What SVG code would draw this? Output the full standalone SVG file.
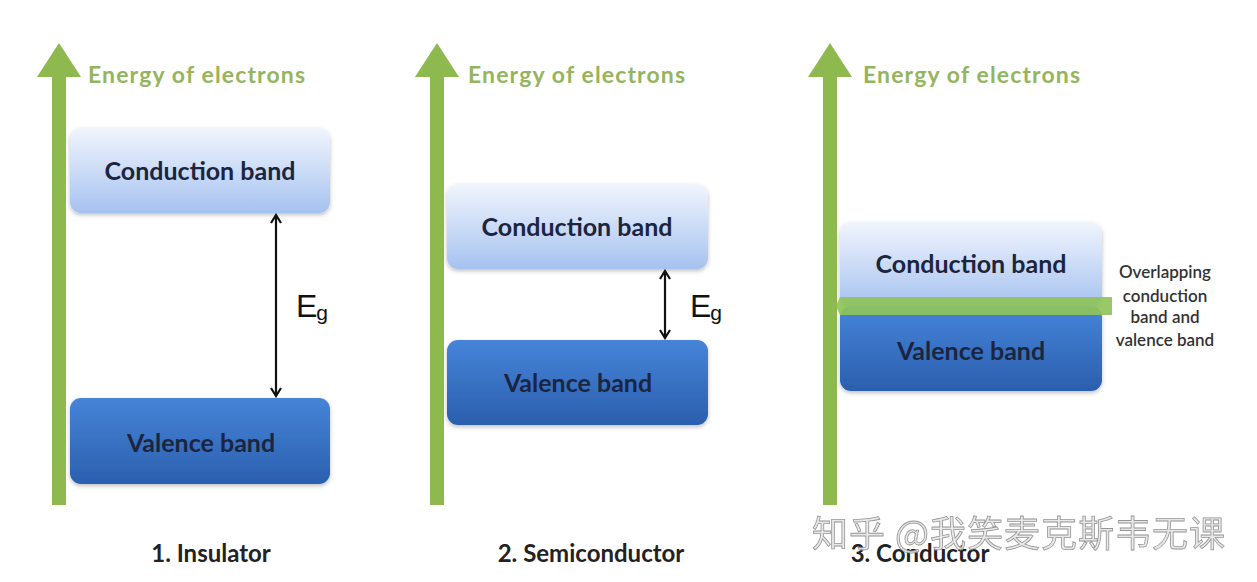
<svg xmlns="http://www.w3.org/2000/svg" width="1257" height="582" viewBox="0 0 1257 582">
<defs>
<linearGradient id="gc" x1="0" y1="0" x2="0" y2="1"><stop offset="0" stop-color="#f1f5fd"/><stop offset="1" stop-color="#a6c2f0"/></linearGradient>
<linearGradient id="gv" x1="0" y1="0" x2="0" y2="1"><stop offset="0" stop-color="#4684d8"/><stop offset="1" stop-color="#2b5fae"/></linearGradient>
<filter id="sh" x="-10%" y="-20%" width="120%" height="150%"><feDropShadow dx="0" dy="2" stdDeviation="2" flood-color="#000" flood-opacity="0.25"/></filter>
<marker id="ah" viewBox="0 0 12 12" refX="10" refY="6" markerWidth="12" markerHeight="12" markerUnits="userSpaceOnUse" orient="auto-start-reverse"><polyline points="2,1 10,6 2,11" fill="none" stroke="#111" stroke-width="2.2"/></marker>
</defs>
<style>
.axis{fill:#8db94f}
.axt{font-family:Lato,"Liberation Sans",sans-serif;font-weight:bold;font-size:23px;fill:#94b55e}
.bt{font-family:Lato,"Liberation Sans",sans-serif;font-weight:bold;font-size:25px;fill:#1c2540;text-anchor:middle}
.cap{font-family:Lato,"Liberation Sans",sans-serif;font-weight:bold;font-size:24px;fill:#222;text-anchor:middle}
.eg{font-family:"Liberation Sans",Arial,sans-serif;font-size:32px;fill:#111}
.ov{font-family:Lato,"Liberation Sans",sans-serif;font-size:17px;font-weight:600;fill:#333;text-anchor:middle}
.con{stroke:#111;stroke-width:2.2;fill:none;marker-start:url(#ah);marker-end:url(#ah)}
.cb{fill:url(#gc);filter:url(#sh)}
.vb{fill:url(#gv);filter:url(#sh)}
</style>
<rect width="1257" height="582" fill="#fff"/>

<g id="axis1"><rect class="axis" x="52" y="74" width="14" height="431"/><polygon class="axis" points="59,43 81,77 37,77"/><text class="axt" x="88" y="83" textLength="217">Energy of electrons</text></g>
<g id="axis2"><rect class="axis" x="430" y="74" width="14" height="431"/><polygon class="axis" points="437,43 459,77 415,77"/><text class="axt" x="468" y="83" textLength="217">Energy of electrons</text></g>
<g id="axis3"><rect class="axis" x="823" y="74" width="14" height="431"/><polygon class="axis" points="830,43 852,77 808,77"/><text class="axt" x="863" y="83" textLength="217">Energy of electrons</text></g>

<g id="cb1"><rect class="cb" x="70" y="128" width="260" height="85" rx="11"/><text class="bt" x="200" y="180">Conduction band</text></g>
<g id="vb1"><rect class="vb" x="70" y="398" width="260" height="86" rx="11"/><text class="bt" x="201" y="452">Valence band</text></g>
<g id="cb2"><rect class="cb" x="447" y="184" width="261" height="85" rx="11"/><text class="bt" x="577" y="236">Conduction band</text></g>
<g id="vb2"><rect class="vb" x="447" y="340" width="261" height="85" rx="11"/><text class="bt" x="578" y="392">Valence band</text></g>
<g id="cb3"><rect class="cb" x="840" y="222" width="262" height="85" rx="11"/><text class="bt" x="971" y="273">Conduction band</text></g>
<g id="vb3"><rect class="vb" x="840" y="306" width="262" height="85" rx="11"/><text class="bt" x="971" y="360">Valence band</text></g>
<g id="overlap"><polygon points="836,306 840,297 1112,297 1112,315 840,315" fill="#8fc35a" opacity="0.92"/>
<text class="ov"><tspan x="1165" y="278">Overlapping</tspan><tspan x="1165" y="302">conduction</tspan><tspan x="1165" y="323">band and</tspan><tspan x="1165" y="346">valence band</tspan></text></g>

<g id="connectors">
<line class="con" x1="276" y1="215" x2="276" y2="396"/>
<line class="con" x1="665" y1="271" x2="665" y2="338"/>
</g>
<g id="eg1"><text class="eg" x="296" y="317" letter-spacing="-1">E<tspan font-size="21" dy="3">g</tspan></text></g>
<g id="eg2"><text class="eg" x="690" y="317" letter-spacing="-1">E<tspan font-size="21" dy="3">g</tspan></text></g>

<g id="captions">
<text class="cap" x="211" y="562">1. Insulator</text>
<text class="cap" x="591" y="562">2. Semiconductor</text>
<text class="cap" x="920" y="562">3. Conductor</text>
</g>
<text id="watermark" x="812" y="547" font-family="'Noto Sans CJK SC',sans-serif" font-size="36" fill="#e6e6e6" stroke="#8a8a8a" stroke-width="0.8" opacity="0.9" textLength="413">知乎 @我笑麦克斯韦无课</text>
</svg>
